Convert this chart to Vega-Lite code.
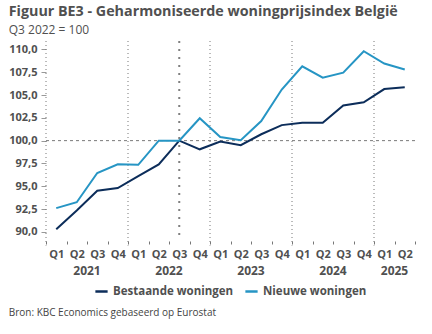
{
  "$schema": "https://vega.github.io/schema/vega-lite/v6.json",
  "padding": {"left": 8, "right": 15, "top": 4, "bottom": 4},
  "config": {
    "font": "Open Sans",
    "view": {"stroke": null},
    "legend": {"layout": {"bottom": {"anchor": "middle"}}},
    "locale": {"number": {"decimal": ",", "thousands": ".", "grouping": [3], "currency": ["€", ""]}}
  },
  "title": {
    "text": "Bron: KBC Economics gebaseerd op Eurostat",
    "orient": "bottom",
    "anchor": "start",
    "frame": "bounds",
    "fontSize": 10,
    "fontWeight": "normal",
    "color": "#444444",
    "offset": 11
  },
  "datasets": {
    "series": [
      {"q": "Q1 2021", "reeks": "Bestaande woningen", "v": 90.3},
      {"q": "Q2 2021", "reeks": "Bestaande woningen", "v": 92.35},
      {"q": "Q3 2021", "reeks": "Bestaande woningen", "v": 94.5},
      {"q": "Q4 2021", "reeks": "Bestaande woningen", "v": 94.8},
      {"q": "Q1 2022", "reeks": "Bestaande woningen", "v": 96.1},
      {"q": "Q2 2022", "reeks": "Bestaande woningen", "v": 97.4},
      {"q": "Q3 2022", "reeks": "Bestaande woningen", "v": 100.0},
      {"q": "Q4 2022", "reeks": "Bestaande woningen", "v": 99.05},
      {"q": "Q1 2023", "reeks": "Bestaande woningen", "v": 99.9},
      {"q": "Q2 2023", "reeks": "Bestaande woningen", "v": 99.5},
      {"q": "Q3 2023", "reeks": "Bestaande woningen", "v": 100.7},
      {"q": "Q4 2023", "reeks": "Bestaande woningen", "v": 101.7},
      {"q": "Q1 2024", "reeks": "Bestaande woningen", "v": 101.95},
      {"q": "Q2 2024", "reeks": "Bestaande woningen", "v": 101.95},
      {"q": "Q3 2024", "reeks": "Bestaande woningen", "v": 103.85},
      {"q": "Q4 2024", "reeks": "Bestaande woningen", "v": 104.2},
      {"q": "Q1 2025", "reeks": "Bestaande woningen", "v": 105.65},
      {"q": "Q2 2025", "reeks": "Bestaande woningen", "v": 105.85},
      {"q": "Q1 2021", "reeks": "Nieuwe woningen", "v": 92.6},
      {"q": "Q2 2021", "reeks": "Nieuwe woningen", "v": 93.25},
      {"q": "Q3 2021", "reeks": "Nieuwe woningen", "v": 96.45},
      {"q": "Q4 2021", "reeks": "Nieuwe woningen", "v": 97.4},
      {"q": "Q1 2022", "reeks": "Nieuwe woningen", "v": 97.35},
      {"q": "Q2 2022", "reeks": "Nieuwe woningen", "v": 100.0},
      {"q": "Q3 2022", "reeks": "Nieuwe woningen", "v": 100.0},
      {"q": "Q4 2022", "reeks": "Nieuwe woningen", "v": 102.45},
      {"q": "Q1 2023", "reeks": "Nieuwe woningen", "v": 100.4},
      {"q": "Q2 2023", "reeks": "Nieuwe woningen", "v": 100.05},
      {"q": "Q3 2023", "reeks": "Nieuwe woningen", "v": 102.15},
      {"q": "Q4 2023", "reeks": "Nieuwe woningen", "v": 105.6},
      {"q": "Q1 2024", "reeks": "Nieuwe woningen", "v": 108.15},
      {"q": "Q2 2024", "reeks": "Nieuwe woningen", "v": 106.9},
      {"q": "Q3 2024", "reeks": "Nieuwe woningen", "v": 107.45},
      {"q": "Q4 2024", "reeks": "Nieuwe woningen", "v": 109.8},
      {"q": "Q1 2025", "reeks": "Nieuwe woningen", "v": 108.45},
      {"q": "Q2 2025", "reeks": "Nieuwe woningen", "v": 107.8}
    ],
    "yearStarts": [
      {"q": "Q1 2021"}, {"q": "Q1 2022"}, {"q": "Q1 2023"}, {"q": "Q1 2024"}, {"q": "Q1 2025"}
    ],
    "yearLabels": [
      {"jaar": "2021", "at": "Q2 2021"},
      {"jaar": "2022", "at": "Q2 2022"},
      {"jaar": "2023", "at": "Q2 2023"},
      {"jaar": "2024", "at": "Q2 2024"},
      {"jaar": "2025", "at": "Q1 2025"}
    ],
    "marker": [{"q": "Q3 2022"}],
    "ref": [{"v": 100}]
  },
  "vconcat": [
    {
      "width": 369,
      "height": 200,
      "title": {
        "text": "Figuur BE3 - Geharmoniseerde woningprijsindex België",
        "subtitle": "Q3 2022 = 100",
        "anchor": "start",
        "frame": "bounds",
        "fontSize": 14.3,
        "fontWeight": "bold",
        "color": "#505050",
        "subtitleFontSize": 12,
        "subtitleColor": "#505050",
        "subtitlePadding": 6,
        "offset": 4
      },
      "encoding": {
        "x": {"field": "q", "type": "ordinal",
              "scale": {"domain": ["Q1 2021","Q2 2021","Q3 2021","Q4 2021","Q1 2022","Q2 2022","Q3 2022","Q4 2022","Q1 2023","Q2 2023","Q3 2023","Q4 2023","Q1 2024","Q2 2024","Q3 2024","Q4 2024","Q1 2025","Q2 2025"]},
              "axis": {"title": null, "labelExpr": "split(datum.label, ' ')[0]", "labelAngle": 0,
                       "labelFontSize": 11, "labelFontWeight": "bold", "labelColor": "#505050",
                       "labelPadding": 4, "tickBand": "extent", "tickSize": 3, "tickColor": "#777777",
                       "domain": false, "grid": false, "labelOverlap": false}},
        "y": {"type": "quantitative",
              "scale": {"domain": [89, 110.92], "nice": false, "zero": false},
              "axis": {"title": null, "values": [90, 92.5, 95, 97.5, 100, 102.5, 105, 107.5, 110], "format": ".1f",
                       "labelFontSize": 11, "labelFontWeight": "bold", "labelColor": "#505050", "labelOverlap": false,
                       "domain": false, "tickSize": 5, "tickColor": "#999999", "gridColor": "#e6e6e6", "labelPadding": 4}}
      },
      "layer": [
        {
          "data": {"name": "yearStarts"},
          "mark": {"type": "rule", "color": "#777777", "strokeWidth": 1, "strokeDash": [1, 3]},
          "encoding": {
            "x": {"field": "q", "type": "ordinal", "bandPosition": 0},
            "y": {"datum": 110.92, "type": "quantitative"},
            "y2": {"datum": 88.5}
          }
        },
        {
          "data": {"name": "marker"},
          "mark": {"type": "rule", "color": "#808080", "strokeWidth": 2, "strokeDash": [2, 6]},
          "encoding": {
            "x": {"field": "q", "type": "ordinal", "bandPosition": 0.5},
            "y": null
          }
        },
        {
          "data": {"name": "ref"},
          "mark": {"type": "rule", "color": "#7a7a7a", "strokeWidth": 1, "strokeDash": [3, 3]},
          "encoding": {
            "x": null,
            "y": {"field": "v", "type": "quantitative"}
          }
        },
        {
          "data": {"name": "series"},
          "mark": {"type": "line", "strokeWidth": 2},
          "encoding": {
            "y": {"field": "v", "type": "quantitative"},
            "color": {"field": "reeks", "type": "nominal",
                      "scale": {"domain": ["Bestaande woningen", "Nieuwe woningen"], "range": ["#0c2d5a", "#2695c4"]},
                      "legend": {"title": null, "orient": "bottom", "direction": "horizontal", "symbolType": "stroke",
                                 "symbolSize": 150, "symbolStrokeWidth": 2.5, "labelFontSize": 11.5, "labelFontWeight": "bold",
                                 "labelColor": "#505050", "columnPadding": 6, "offset": 6}}
          }
        },
        {
          "data": {"name": "yearLabels"},
          "mark": {"type": "text", "fontSize": 12, "fontWeight": "bold", "color": "#505050", "baseline": "middle"},
          "encoding": {
            "x": {"field": "at", "type": "ordinal", "bandPosition": 1},
            "y": {"datum": 85.7, "type": "quantitative"},
            "text": {"field": "jaar"}
          }
        }
      ]
    }
  ]
}
